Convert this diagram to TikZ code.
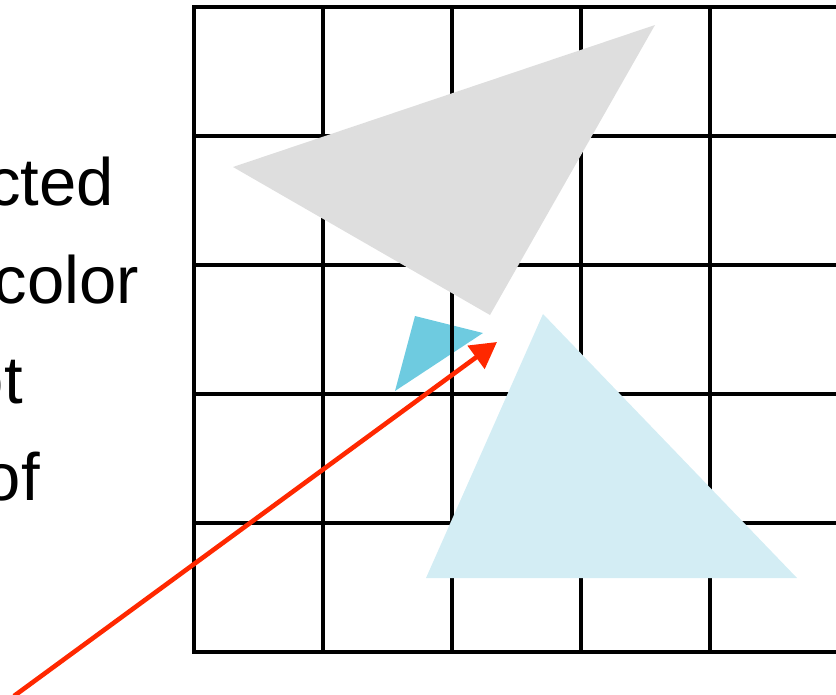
\documentclass[tikz,border=0pt]{standalone}
\usepackage{fontspec}
\setmainfont{Liberation Sans}
\usetikzlibrary{arrows.meta}
\definecolor{grayTri}{RGB}{222,222,222}
\definecolor{lightBlueTri}{RGB}{211,237,244}
\definecolor{smallBlueTri}{RGB}{110,203,224}
\definecolor{arrowRed}{RGB}{255,40,0}
\tikzset{
  gridline/.style={line width=3.6pt, black},
  bigtext/.style={font=\fontsize{67}{80}\selectfont, anchor=base east, inner sep=0pt, text=black},
  pointer/.style={line width=4.6pt, arrowRed, -{Triangle[length=26pt,width=28pt]}}
}
\begin{document}
\begin{tikzpicture}[x=1pt,y=-1pt]
\useasboundingbox (0,0) rectangle (836,694);
\clip (0,0) rectangle (836,694);
% text (cut at the left edge, as in the reference)
\node[bigtext] (t1) at (114,205) {cted};
\node[bigtext] (t2) at (139,303) {color};
\node[bigtext] (t3) at (23,403) {ot};
\node[bigtext] (t4) at (40,500) {of};
% small blue triangle (under the grid)
\fill[smallBlueTri] (415,316) -- (483,333) -- (395,391) -- cycle;
% grid
\foreach \i in {0,...,5} {
  \draw[gridline] (194+129*\i,7) -- (194+129*\i,652);
  \draw[gridline] (194,7+129*\i) -- (841,7+129*\i);
}
\draw[gridline, line cap=rect] (194,7) -- (194,652);
% big triangles (over the grid)
\fill[grayTri] (233,167) -- (655,25) -- (490,315) -- cycle;
\fill[lightBlueTri] (543,314) -- (426,578) -- (797,578) -- cycle;
% arrow
\coordinate (arrowStart) at (14,696);
\coordinate (arrowTip) at (497,342);
\draw[pointer] (arrowStart) -- (arrowTip);
\end{tikzpicture}
\end{document}
